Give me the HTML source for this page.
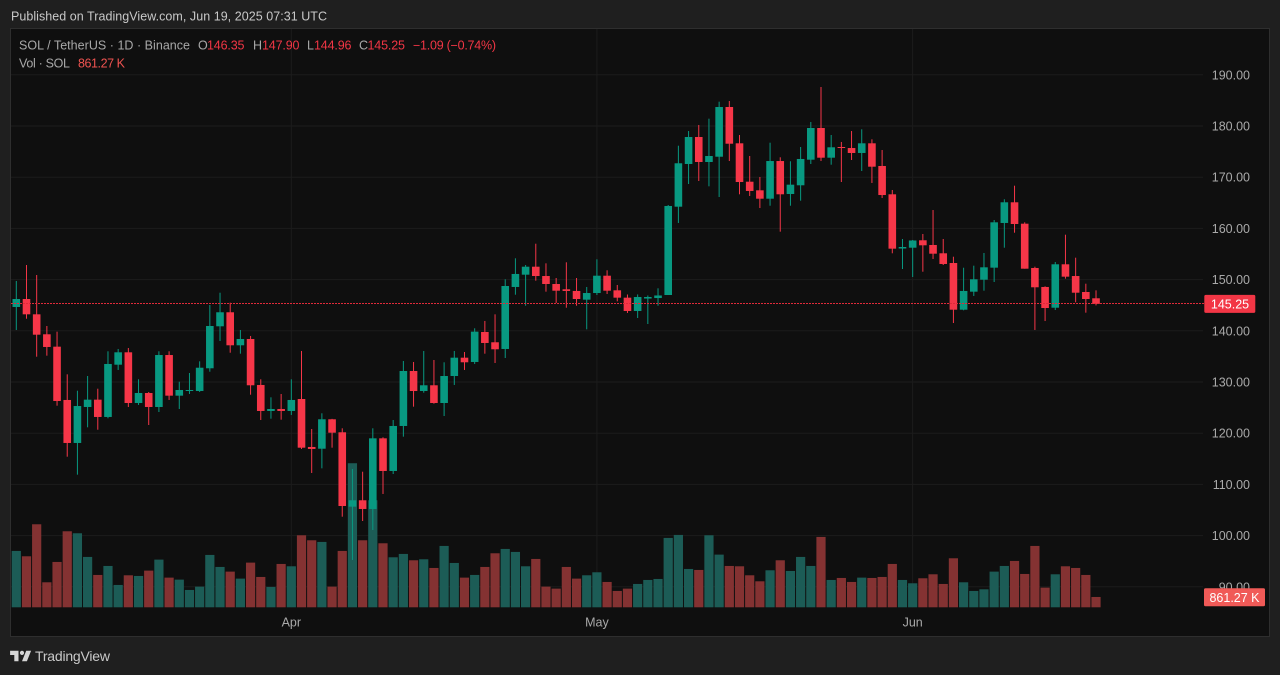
<!DOCTYPE html>
<html lang="en">
<head>
<meta charset="utf-8">
<title>SOL / TetherUS 1D Chart</title>
<style>
html,body{margin:0;padding:0;background:#1f1f1f;width:1280px;height:675px;overflow:hidden}
svg{display:block}
text{font-family:"Liberation Sans",sans-serif}
</style>
</head>
<body>
<svg id="chart" xmlns="http://www.w3.org/2000/svg" width="1280" height="675" viewBox="0 0 1280 675">
  <rect x="0" y="0" width="1280" height="675" fill="#1f1f1f"/>
  <text x="11" y="20.5" font-size="12.5" fill="#c8c8c8" textLength="316" lengthAdjust="spacing">Published on TradingView.com, Jun 19, 2025 07:31 UTC</text>
  <rect x="10.5" y="28.5" width="1259" height="608" fill="#0f0f0f" stroke="#2e2e2e" stroke-width="1"/>
  <g id="grid"></g>
  <g id="volume"></g>
  <g id="candles"></g>
  <g id="lastline"></g>
  <g id="yaxis"></g>
  <g id="xaxis"></g>
  <g id="labels"></g>

  <g font-size="12.5">
    <text x="19" y="49.5" fill="#a8a8a8" textLength="171" lengthAdjust="spacing">SOL / TetherUS · 1D · Binance</text>
    <text x="198" y="49.5" fill="#a8a8a8">O</text>
    <text x="207" y="49.5" fill="#f23645" textLength="37.5" lengthAdjust="spacing">146.35</text>
    <text x="253" y="49.5" fill="#a8a8a8">H</text>
    <text x="262" y="49.5" fill="#f23645" textLength="37.5" lengthAdjust="spacing">147.90</text>
    <text x="307" y="49.5" fill="#a8a8a8">L</text>
    <text x="314" y="49.5" fill="#f23645" textLength="37.5" lengthAdjust="spacing">144.96</text>
    <text x="359" y="49.5" fill="#a8a8a8">C</text>
    <text x="367.5" y="49.5" fill="#f23645" textLength="37.5" lengthAdjust="spacing">145.25</text>
    <text x="413" y="49.5" fill="#f23645" textLength="83" lengthAdjust="spacing">−1.09 (−0.74%)</text>
    <text x="19" y="67.5" fill="#a8a8a8" textLength="51" lengthAdjust="spacing">Vol · SOL</text>
    <text x="78" y="67.5" fill="#ef5350" textLength="47" lengthAdjust="spacing">861.27 K</text>
  </g>

  <g>
    <path transform="translate(8.7,646.6) scale(0.7)" fill="#d6d6d6" d="M14 6H2v6h6v9h6V6zm12 15h-7l6-15h7l-6 15zm-7-9a3 3 0 1 0 0-6 3 3 0 0 0 0 6z"/>
    <text x="35" y="661" font-size="14" fill="#c9c9c9" textLength="75" lengthAdjust="spacing">TradingView</text>
  </g>
</svg>
<script>
var opens = [144.65,146.21,143.22,139.32,136.90,126.49,118.09,125.12,126.55,123.17,133.38,135.80,125.90,127.85,125.12,135.27,127.33,128.24,128.24,132.68,140.88,143.62,137.17,138.40,129.42,124.34,124.73,124.34,126.68,117.31,116.97,122.72,120.18,105.65,106.90,105.20,119.00,112.62,121.41,132.15,128.24,129.36,125.90,131.17,134.75,133.91,139.77,137.76,136.45,148.56,150.96,152.52,150.70,149.14,148.11,147.78,146.08,147.38,150.76,147.91,146.47,143.87,146.30,146.40,146.99,164.24,172.58,177.85,172.97,174.00,183.71,176.62,169.12,167.44,165.80,173.16,166.72,168.42,173.42,179.61,173.81,175.90,175.70,174.73,176.62,172.19,166.66,156.07,156.23,157.68,156.76,155.14,153.24,144.12,147.64,149.98,152.33,161.06,165.10,160.92,152.27,148.56,144.51,152.99,150.70,147.58,146.35];
var highs = [149.73,152.85,150.90,140.94,139.83,131.50,128.30,131.17,128.69,136.00,136.45,136.64,130.53,128.05,136.00,136.00,130.06,131.76,134.04,145.04,147.44,145.49,140.16,138.99,130.53,127.01,127.66,130.53,136.06,120.82,123.89,122.80,120.96,113.01,112.48,120.96,119.20,122.58,134.10,133.91,136.06,134.30,133.85,136.06,135.86,140.49,141.92,143.22,150.06,154.16,152.85,157.01,153.18,150.31,153.38,150.31,148.56,153.97,151.82,148.95,147.09,147.10,146.90,148.30,164.57,176.15,179.02,180.20,181.43,184.75,184.88,178.24,174.14,170.04,176.74,173.89,173.11,175.90,180.78,187.62,178.24,176.88,179.02,179.36,177.40,175.31,167.50,157.93,157.74,158.91,163.59,157.93,154.47,152.32,152.72,155.20,161.64,165.69,168.34,161.19,152.52,148.69,153.44,158.77,154.28,149.20,147.90];
var lows = [140.16,142.36,134.94,135.14,125.37,115.41,111.90,121.15,120.68,122.91,132.35,125.12,125.51,121.60,124.14,126.49,124.73,127.66,128.05,132.01,138.01,135.72,135.53,127.52,122.58,122.83,122.64,123.56,116.92,112.23,113.14,117.17,103.69,95.24,102.85,101.09,108.13,112.03,119.32,125.18,127.91,125.76,123.36,129.42,132.35,133.52,135.53,133.71,134.69,147.05,144.90,149.79,147.64,145.43,144.51,144.90,140.29,146.99,147.19,145.76,143.48,142.50,141.33,144.90,146.99,161.06,168.67,169.26,168.22,166.13,173.16,166.66,166.33,163.98,164.43,159.36,164.43,165.41,172.58,173.16,172.44,169.06,173.36,171.21,168.87,165.94,155.14,152.07,150.51,151.54,154.03,152.85,141.52,144.00,146.80,147.83,149.53,156.23,159.16,152.13,140.16,141.91,144.06,150.18,145.57,143.54,144.96];
var closes = [146.21,143.22,139.24,136.84,126.29,118.09,125.31,126.55,123.17,133.52,135.80,125.90,127.85,125.12,135.27,127.33,128.44,128.44,132.79,140.94,143.62,137.17,138.40,129.36,124.34,124.73,124.34,126.49,117.17,116.92,122.72,120.10,105.78,106.90,105.20,119.00,112.62,121.41,132.15,128.24,129.36,125.90,131.17,134.75,133.85,139.83,137.62,136.39,148.75,151.10,152.52,150.70,149.14,147.83,147.78,146.21,147.38,150.76,147.83,146.47,143.87,146.60,146.60,146.90,164.38,172.72,177.85,172.97,174.14,183.71,176.54,169.06,167.31,165.80,173.16,166.66,168.54,173.56,179.61,173.81,175.84,175.70,174.73,176.62,172.05,166.52,156.04,156.37,157.64,156.70,155.06,153.05,144.12,147.78,150.06,152.40,161.19,165.10,160.86,152.13,148.50,144.45,152.99,150.57,147.44,146.21,145.25];
var volumes = [4698,4253,6922,2085,3781,6338,6172,4198,2697,3447,1863,2669,2613,3058,3975,2474,2307,1446,1724,4365,3364,2975,2391,3725,2530,1696,3614,3419,6005,5588,5449,1724,4698,12010,5588,8924,5338,4170,4448,3920,4003,3280,5115,3697,2474,2697,3364,4504,4865,4615,3419,4031,1724,1557,3364,2391,2669,2919,2113,1362,1557,1946,2280,2363,5782,6033,3197,3114,6005,4392,3447,3419,2669,2168,3086,3920,3030,4198,3447,5866,2280,2446,2113,2474,2446,2530,3614,2280,2002,2419,2752,1946,4087,2085,1362,1501,2975,3447,3864,2780,5115,1640,2752,3419,3280,2697,861.27];
var priceTicks = [190,180,170,160,150,140,130,120,110,100,90];
var monthLabels = ["Apr","May","Jun"];
var monthBars = [27,57,88];
var volumeLabel = "861.27 K";

var TEAL = "#089981", RED = "#f63648";
var VOL_TEAL = "#1c5c56", VOL_RED = "#843232";
var NS = "http://www.w3.org/2000/svg";

function xOf(i){ return 16.3 + i * 10.186; }
function yOf(p){ return 126 + (180 - p) * 5.12; }
function vHeight(v){ return v / 83.36; }
var VOL_BASE = 607.3;

function make(tag, parent, attrs){
  var el = document.createElementNS(NS, tag);
  for (var k in attrs) el.setAttribute(k, attrs[k]);
  parent.appendChild(el);
  return el;
}

var gridG = document.getElementById("grid");
priceTicks.forEach(function(p){
  var line = make("line", gridG, {x1:11, x2:1203, y1:yOf(p), y2:yOf(p), stroke:"#1c1c1c", "stroke-width":1});
  
  
});
monthBars.forEach(function(b){
  var line = make("line", gridG, {x1:xOf(b), x2:xOf(b), y1:29, y2:VOL_BASE, stroke:"#1c1c1c", "stroke-width":1});
  
  
});

var volG = document.getElementById("volume");
volumes.forEach(function(v, i){
  var down = closes[i] < opens[i];
  var h = vHeight(v);
  var bar = make("rect", volG, {x:xOf(i)-4.6, y:VOL_BASE-h, width:9.2, height:h, fill:down?VOL_RED:VOL_TEAL});
  
  
});

var candleG = document.getElementById("candles");
opens.forEach(function(o, i){
  var c = closes[i], down = c < o, col = down ? RED : TEAL, x = xOf(i);
  var wick = make("line", candleG, {x1:x, x2:x, y1:yOf(highs[i]), y2:yOf(lows[i]), stroke:col, "stroke-width":1});
  
  
  var top = yOf(Math.max(o, c)), bottom = yOf(Math.min(o, c));
  var body = make("rect", candleG, {x:x-3.8, y:top, width:7.6, height:Math.max(bottom-top, 1), fill:col});
  
  
});

var lastClose = closes[closes.length - 1];
var lastG = document.getElementById("lastline");
var lastLine = make("line", lastG, {x1:11, x2:1204, y1:Math.floor(yOf(lastClose))+0.5, y2:Math.floor(yOf(lastClose))+0.5, stroke:"#e02a3a", "stroke-width":1, "stroke-dasharray":"2 1", "shape-rendering":"crispEdges"});



var yG = document.getElementById("yaxis");
priceTicks.forEach(function(p){
  var t = make("text", yG, {x:1250, y:yOf(p)+4.5, "text-anchor":"end", "font-size":12.5, fill:"#a9a9a9"});
  t.textContent = p.toFixed(2);
  
  
});

var xG = document.getElementById("xaxis");
monthLabels.forEach(function(m, i){
  var t = make("text", xG, {x:xOf(monthBars[i]), y:626.5, "text-anchor":"middle", "font-size":12.5, fill:"#a9a9a9"});
  t.textContent = m;
  
  
});

var labG = document.getElementById("labels");
var volBox = make("rect", labG, {x:1204, y:588.3, width:61, height:18, rx:1.5, fill:"#f05a57"});


var volText = make("text", labG, {x:1234.5, y:601.8, "text-anchor":"middle", "font-size":12.5, fill:"#ffffff", "font-weight":"400"});
volText.textContent = volumeLabel;


var priceBox = make("rect", labG, {x:1204.3, y:yOf(lastClose)-9, width:51, height:18, rx:1.5, fill:"#f23645"});


var priceText = make("text", labG, {x:1230, y:yOf(lastClose)+4.5, "text-anchor":"middle", "font-size":12.5, fill:"#ffffff"});
priceText.textContent = lastClose.toFixed(2);


</script>
</body>
</html>
